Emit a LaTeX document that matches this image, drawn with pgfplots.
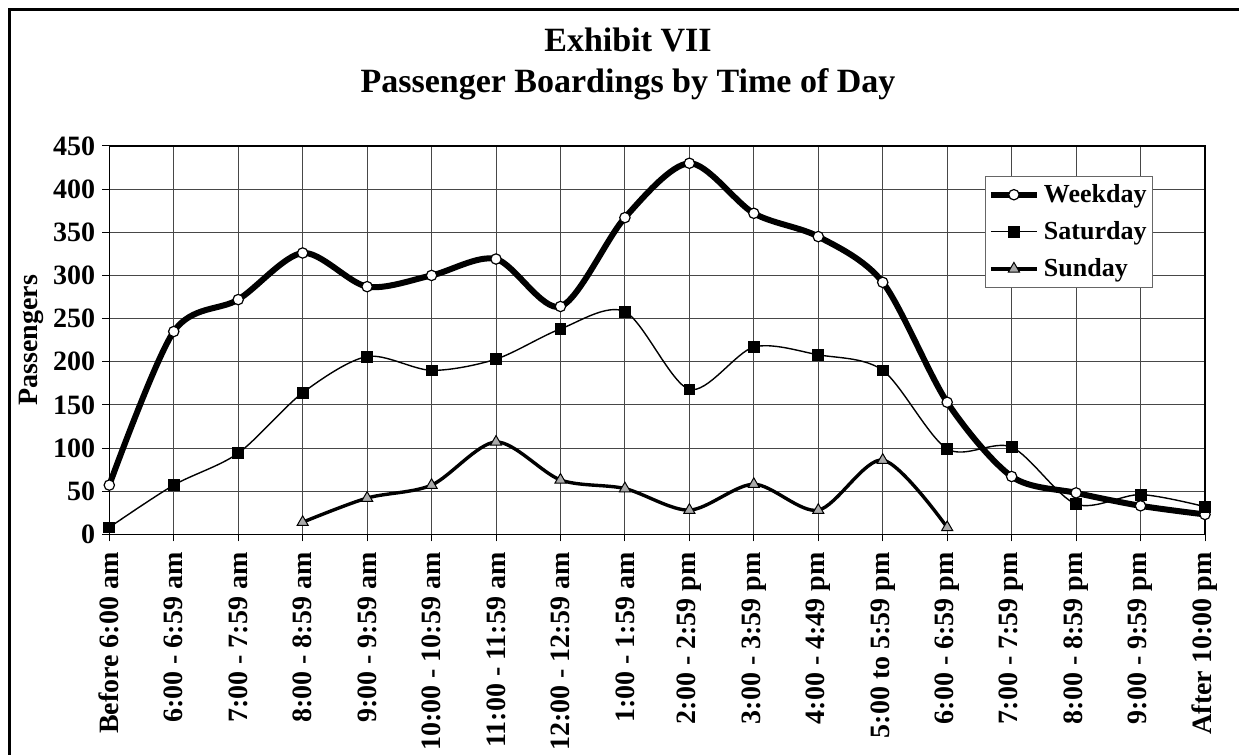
\documentclass[border=0pt]{standalone}
\usepackage{fontspec}
\setmainfont{Liberation Serif}
\usepackage{pgfplots}
\pgfplotsset{compat=1.18}
\definecolor{sungray}{RGB}{170,170,170}
\pgfplotstableread{
x y
0 57
1 235
2 272
3 326
4 287
5 300
6 319
7 264
8 367
9 430
10 372
11 345
12 292
13 153
14 67
15 48
16 33
17 23
}\weekday
\pgfplotstableread{
x y
0 8
1 57
2 94
3 164
4 206
5 190
6 203
7 238
8 258
9 168
10 217
11 208
12 190
13 99
14 101
15 35
16 46
17 32
}\saturday
\pgfplotstableread{
x y
3 14
4 42
5 57
6 107
7 63
8 53
9 28
10 58
11 28
12 86
13 8
}\sunday
\begin{document}
\begin{tikzpicture}
\useasboundingbox (0,0) rectangle (619.5pt,377.5pt);
\draw[line width=1.4pt] (4.75pt,0) -- (4.75pt,372.75pt) -- (619.5pt,372.75pt);
\node[anchor=base, font=\bfseries\fontsize{17}{19}\selectfont, inner sep=0pt] at (314pt,351.65pt) {Exhibit VII};
\node[anchor=base, font=\bfseries\fontsize{17}{19}\selectfont, inner sep=0pt] at (314pt,331.15pt) {Passenger Boardings by Time of Day};
\begin{axis}[
  scale only axis, width=547.85pt, height=194.15pt,
  anchor=south west, at={(54.65pt,110.35pt)},
  xmin=0, xmax=17, ymin=0, ymax=450,
  xtick={0,...,17}, ytick={0,50,...,450},
  xticklabels={Before 6:00 am, 6:00 - 6:59 am, 7:00 - 7:59 am, 8:00 - 8:59 am, 9:00 - 9:59 am, 10:00 - 10:59 am, 11:00 - 11:59 am, 12:00 - 12:59 am, 1:00 - 1:59 am, 2:00 - 2:59 pm, 3:00 - 3:59 pm, 4:00 - 4:49 pm, 5:00 to 5:59 pm, 6:00 - 6:59 pm, 7:00 - 7:59 pm, 8:00 - 8:59 pm, 9:00 - 9:59 pm, After 10:00 pm},
  xtick pos=left, ytick pos=left,
  tick align=outside, major tick length=3.5pt,
  grid=major, major grid style={black!72, line width=0.5pt},
  axis line style={black, line width=0.6pt},
  tick style={black, line width=0.5pt},
  x tick label style={rotate=90, anchor=east, font=\bfseries\fontsize{14}{14}\selectfont},
  xticklabel shift=2pt,
  y tick label style={font=\bfseries\fontsize{14}{14}\selectfont},
  /pgf/number format/assume math mode=true,
  ylabel={Passengers},
  every axis y label/.style={at={(axis description cs:-0.0712,0.5)}, rotate=90, anchor=center, font=\bfseries\fontsize{14}{14}\selectfont},
  clip=false,
  legend style={at={(axis description cs:0.7996,0.9235)}, anchor=north west, draw=black!60, line width=0.5pt, font=\bfseries\fontsize{13}{13}\selectfont, inner xsep=1pt, inner ysep=2pt, row sep=4pt, cells={anchor=west}},
  legend image code/.code={\draw[mark repeat=2,mark phase=2] plot coordinates {(0pt,0pt)(11.5pt,0pt)(23pt,0pt)};},
]
\addplot[black, line width=3pt, smooth, tension=0.5, mark=*, mark size=2.6pt, mark options={fill=white, draw=black, line width=0.6pt}] table[x=x,y=y] {\weekday};
\addlegendentry{Weekday}
\addplot[black, line width=0.7pt, smooth, tension=0.5, mark=square*, mark size=2.7pt, mark options={fill=black, draw=black, line width=0.4pt}] table[x=x,y=y] {\saturday};
\addlegendentry{Saturday}
\addplot[black, line width=1.7pt, smooth, tension=0.5, mark=triangle*, mark size=3.2pt, mark options={fill=sungray, draw=black, line width=0.5pt}] table[x=x,y=y] {\sunday};
\addlegendentry{Sunday}
\end{axis}
\end{tikzpicture}
\end{document}
